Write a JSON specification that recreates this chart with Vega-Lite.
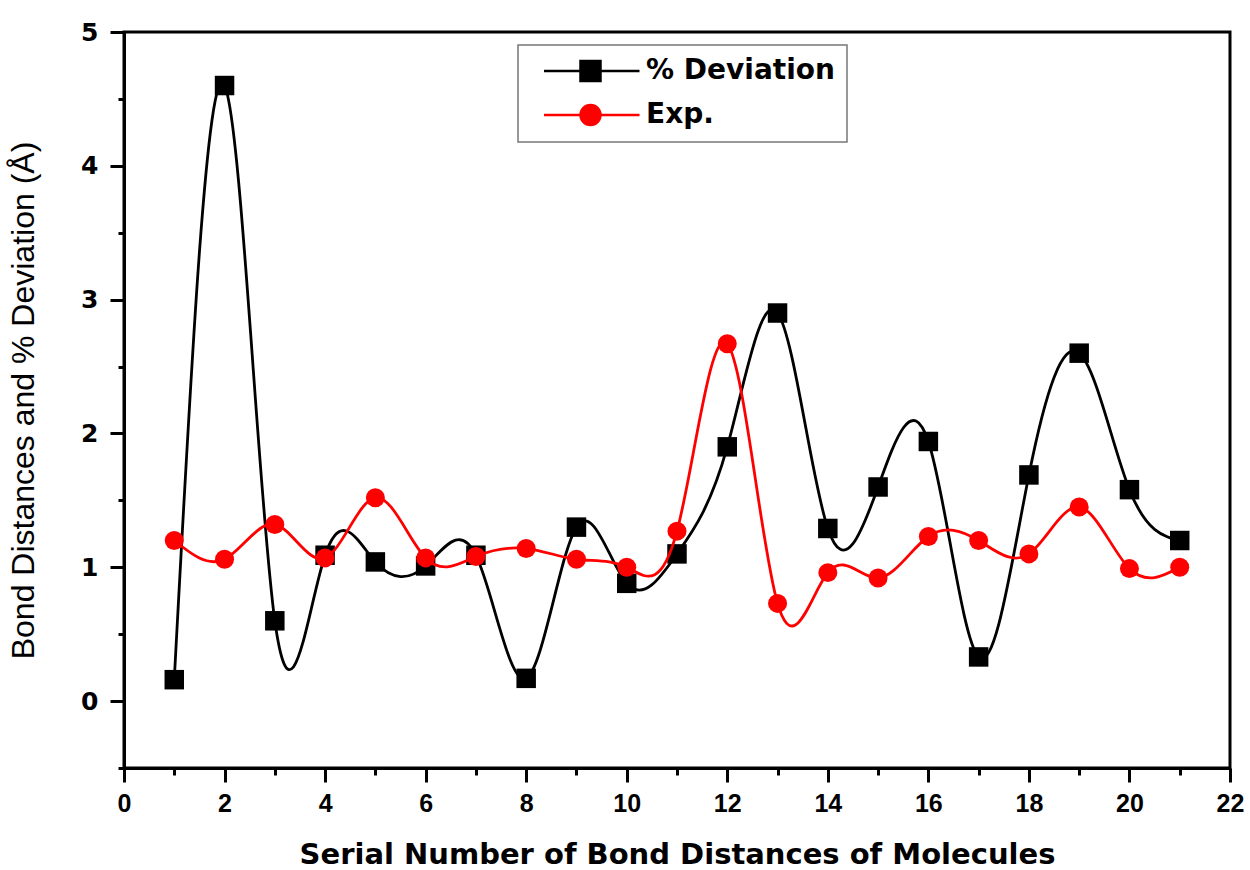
{
  "$schema": "https://vega.github.io/schema/vega-lite/v6.json",
  "autosize": {"type": "none"},
  "width": 1106,
  "height": 736,
  "padding": {"left": 124, "top": 32, "right": 20, "bottom": 102},
  "background": "white",
  "config": {
    "view": {"stroke": "black", "strokeWidth": 3},
    "font": "Liberation Sans"
  },
  "data": {
    "values": [
      {"n": 1, "series": "% Deviation", "value": 0.16},
      {"n": 2, "series": "% Deviation", "value": 4.6},
      {"n": 3, "series": "% Deviation", "value": 0.6},
      {"n": 4, "series": "% Deviation", "value": 1.09},
      {"n": 5, "series": "% Deviation", "value": 1.04},
      {"n": 6, "series": "% Deviation", "value": 1.01},
      {"n": 7, "series": "% Deviation", "value": 1.09},
      {"n": 8, "series": "% Deviation", "value": 0.17},
      {"n": 9, "series": "% Deviation", "value": 1.3},
      {"n": 10, "series": "% Deviation", "value": 0.88},
      {"n": 11, "series": "% Deviation", "value": 1.1},
      {"n": 12, "series": "% Deviation", "value": 1.9},
      {"n": 13, "series": "% Deviation", "value": 2.9},
      {"n": 14, "series": "% Deviation", "value": 1.29},
      {"n": 15, "series": "% Deviation", "value": 1.6},
      {"n": 16, "series": "% Deviation", "value": 1.94},
      {"n": 17, "series": "% Deviation", "value": 0.33},
      {"n": 18, "series": "% Deviation", "value": 1.69},
      {"n": 19, "series": "% Deviation", "value": 2.6},
      {"n": 20, "series": "% Deviation", "value": 1.58},
      {"n": 21, "series": "% Deviation", "value": 1.2},
      {"n": 1, "series": "Exp.", "value": 1.2},
      {"n": 2, "series": "Exp.", "value": 1.06},
      {"n": 3, "series": "Exp.", "value": 1.32},
      {"n": 4, "series": "Exp.", "value": 1.07},
      {"n": 5, "series": "Exp.", "value": 1.52},
      {"n": 6, "series": "Exp.", "value": 1.07},
      {"n": 7, "series": "Exp.", "value": 1.08},
      {"n": 8, "series": "Exp.", "value": 1.14},
      {"n": 9, "series": "Exp.", "value": 1.06},
      {"n": 10, "series": "Exp.", "value": 1.0},
      {"n": 11, "series": "Exp.", "value": 1.27},
      {"n": 12, "series": "Exp.", "value": 2.67},
      {"n": 13, "series": "Exp.", "value": 0.73},
      {"n": 14, "series": "Exp.", "value": 0.96},
      {"n": 15, "series": "Exp.", "value": 0.92},
      {"n": 16, "series": "Exp.", "value": 1.23},
      {"n": 17, "series": "Exp.", "value": 1.2},
      {"n": 18, "series": "Exp.", "value": 1.1},
      {"n": 19, "series": "Exp.", "value": 1.45},
      {"n": 20, "series": "Exp.", "value": 0.99},
      {"n": 21, "series": "Exp.", "value": 1.0}
    ]
  },
  "encoding": {
    "x": {
      "field": "n", "type": "quantitative",
      "scale": {"domain": [0, 22], "nice": false, "zero": false},
      "axis": {
        "title": "Serial Number of Bond Distances of Molecules",
        "titleFont": "DejaVu Sans", "titleFontSize": 29, "titleFontWeight": "bold", "titleColor": "black",
        "titlePadding": 24,
        "values": [0,1,2,3,4,5,6,7,8,9,10,11,12,13,14,15,16,17,18,19,20,21,22],
        "labelExpr": "datum.value % 2 === 0 ? datum.label : ''",
        "labelFont": "Liberation Sans", "labelFontSize": 25, "labelFontWeight": "bold", "labelColor": "black",
        "labelPadding": 9, "labelFlush": false, "labelOverlap": false,
        "domainColor": "black", "domainWidth": 3,
        "tickColor": "black", "tickWidth": 3,
        "tickSize": {"condition": {"test": "datum.value % 2 === 0", "value": 14}, "value": 7},
        "grid": false
      }
    },
    "y": {
      "field": "value", "type": "quantitative",
      "scale": {"domain": [-0.5, 5], "nice": false, "zero": false},
      "axis": {
        "title": "Bond Distances and % Deviation (Å)",
        "titleFont": "Liberation Sans", "titleFontSize": 32, "titleFontWeight": "normal", "titleColor": "black",
        "titlePadding": 40,
        "values": [-0.5,0,0.5,1,1.5,2,2.5,3,3.5,4,4.5,5],
        "labelExpr": "datum.value % 1 === 0 ? format(datum.value, 'd') : ''",
        "labelFont": "DejaVu Sans", "labelFontSize": 25, "labelFontWeight": "bold", "labelColor": "black",
        "labelPadding": 12, "labelFlush": false, "labelOverlap": false,
        "domainColor": "black", "domainWidth": 3,
        "tickColor": "black", "tickWidth": 3,
        "tickSize": {"condition": {"test": "datum.value % 1 === 0", "value": 14}, "value": 6},
        "grid": false
      }
    }
  },
  "layer": [
    {
      "transform": [{"filter": "datum.series === '% Deviation'"}],
      "mark": {"type": "line", "interpolate": "natural", "strokeWidth": 2.8},
      "encoding": {
        "color": {
          "field": "series", "type": "nominal",
          "scale": {"domain": ["% Deviation", "Exp."], "range": ["black", "#ff0000"]},
          "legend": {
            "title": null,
            "orient": "none", "legendX": 394, "legendY": 13,
            "direction": "vertical",
            "fillColor": "white", "strokeColor": "#777777",
            "padding": 12,
            "symbolSize": 400,
            "symbolStrokeWidth": 2.5,
            "labelFont": "DejaVu Sans", "labelFontSize": 28, "labelFontWeight": "bold", "labelColor": "black",
            "labelOffset": 88, "labelLimit": 400,
            "rowPadding": 14,
            "encode": {
              "legend": {"update": {"strokeWidth": {"value": 1.5}}},
              "symbols": {
                "update": {
                  "shape": {"signal": "datum.value === '% Deviation' ? 'M0,0L9.55,0M3.65,-1L5.65,-1L5.65,1L3.65,1Z' : 'M0,0L9.55,0M3.65,0A1,1 0 1,0 5.65,0A1,1 0 1,0 3.65,0Z'"},
                  "fillOpacity": {"value": 1},
                  "strokeOpacity": {"value": 1}
                }
              }
            }
          }
        }
      }
    },
    {
      "transform": [{"filter": "datum.series === '% Deviation'"}],
      "mark": {"type": "point", "shape": "square", "filled": true, "size": 380, "opacity": 1},
      "encoding": {"color": {"field": "series", "type": "nominal"}}
    },
    {
      "transform": [{"filter": "datum.series === 'Exp.'"}],
      "mark": {"type": "line", "interpolate": "natural", "strokeWidth": 2.8},
      "encoding": {"color": {"field": "series", "type": "nominal"}}
    },
    {
      "transform": [{"filter": "datum.series === 'Exp.'"}],
      "mark": {"type": "point", "shape": "circle", "filled": true, "size": 360, "opacity": 1},
      "encoding": {"color": {"field": "series", "type": "nominal"}}
    }
  ]
}
